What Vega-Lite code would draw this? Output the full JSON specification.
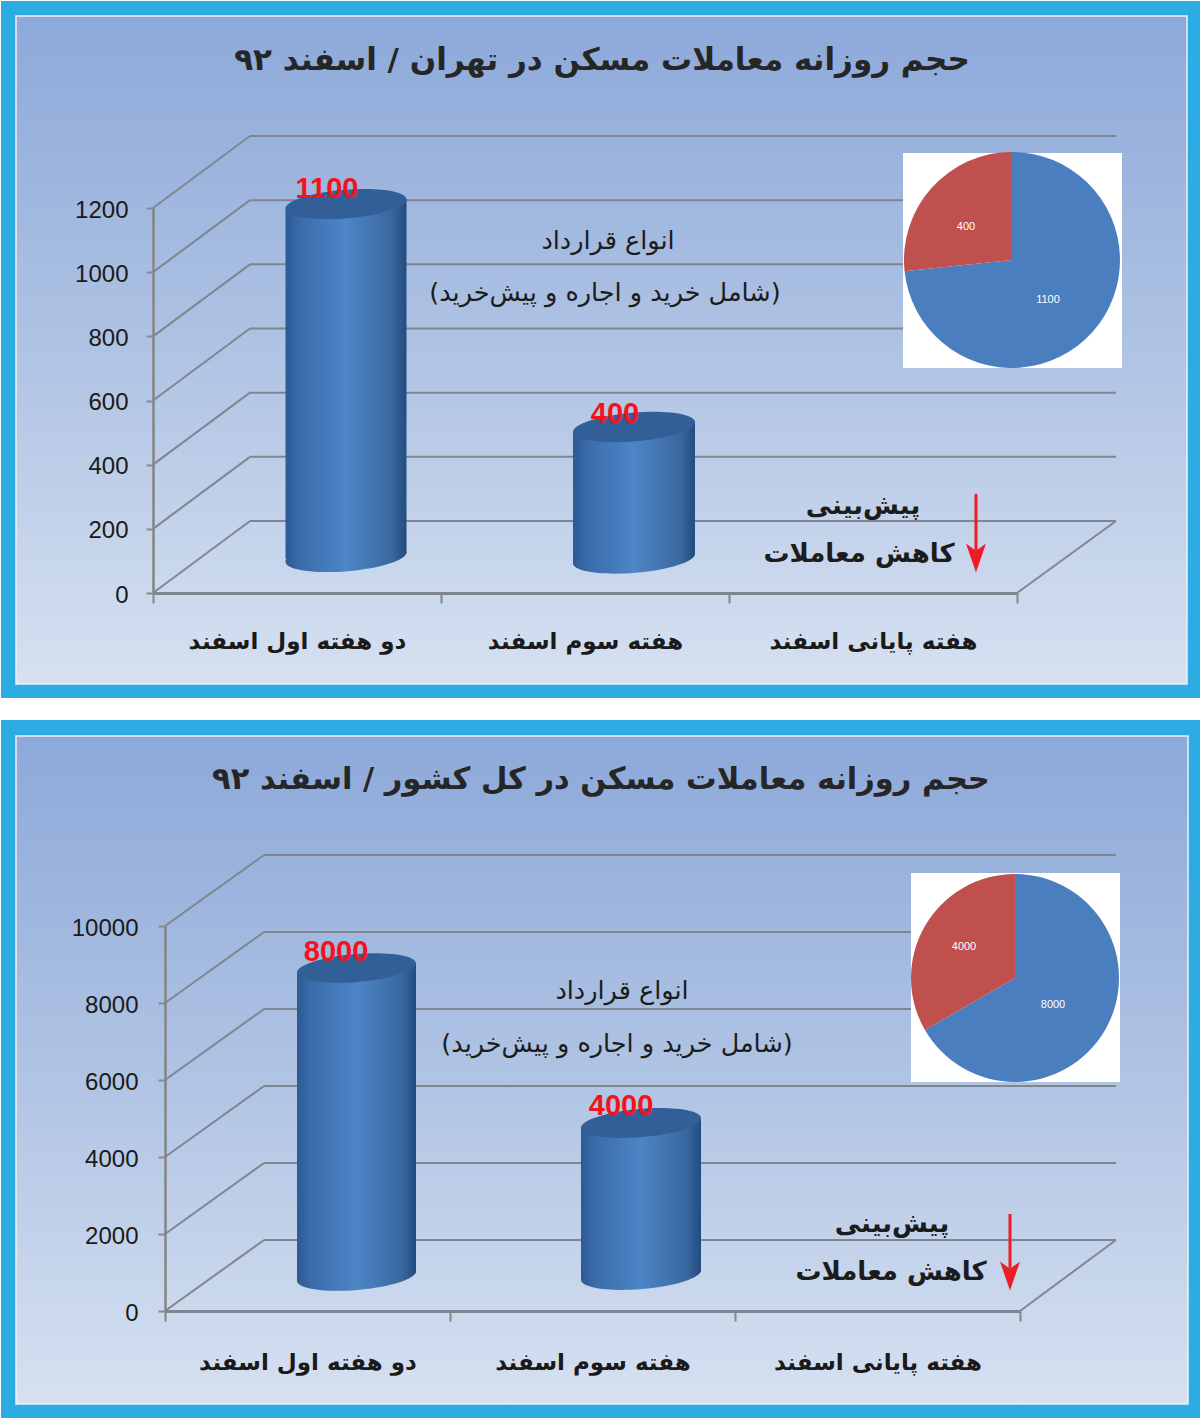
{"$schema":"https://vega.github.io/schema/vega-lite/v6.json","padding":0,"background":"#ffffff","spacing":21,"config":{"view":{"stroke":null}},
"vconcat":[
{"width":864,"height":385,
"resolve":{"scale":{"x":"independent","color":"independent"},"axis":{"x":"independent"}},
"encoding":{"x":{"field":"x","type":"quantitative","scale":{"domain":[0,3],"range":[-12,852],"nice":false,"zero":false},"axis":null},
"y":{"field":"v","type":"quantitative","scale":{"domain":[0,1200],"nice":false,"zero":false},"axis":{"title":null,"grid":false,"offset":12,"values":[0,200,400,600,800,1000,1200],"format":"d","zindex":1,"labelFont":"Liberation Sans","labelFontSize":24,"labelColor":"#1a1a1a","labelPadding":18,"labelOffset":2,"tickSize":7,"tickWidth":2,"tickColor":"#8a8a8a","domainColor":"#858585","domainWidth":2.5}}},
"layer":[
{"data":{"values":[{"x":-0.5278,"x2":3.6389,"v":1845.2,"v2":-327.3}]},"mark":{"type":"rect","fill":"#2DABE3"},"encoding":{"x2":{"field":"x2"},"y2":{"field":"v2"}}},
{"data":{"values":[{"x":-0.4757,"x2":3.5903,"v":1798.4,"v2":-283.6}]},"mark":{"type":"rect","stroke":"#EEF1F8","strokeWidth":1.5,"fill":{"gradient":"linear","x1":0,"y1":0,"x2":0,"y2":1,"stops":[{"offset":0,"color":"#8DA9DA"},{"offset":0.5,"color":"#AFC3E3"},{"offset":1,"color":"#D6E1F1"}]}},"encoding":{"x2":{"field":"x2"},"y2":{"field":"v2"}}},
{"data":{"values":[{"t":"حجم روزانه معاملات مسکن در تهران / اسفند ۹۲","x":1.559,"v":1658.2}]},"mark":{"type":"text","font":"DejaVu Sans","fontWeight":"bold","fontSize":31,"color":"#262626"},"encoding":{"text":{"field":"t"}}},
{"data":{"values":[
{"x":0.3368,"x2":3.3438,"v":224.4,"v2":224.4},{"x":0.3368,"x2":3.3438,"v":424.4,"v2":424.4},{"x":0.3368,"x2":3.3438,"v":624.4,"v2":624.4},{"x":0.3368,"x2":3.3438,"v":824.4,"v2":824.4},{"x":0.3368,"x2":3.3438,"v":1024.4,"v2":1024.4},{"x":0.3368,"x2":3.3438,"v":1224.4,"v2":1224.4},{"x":0.3368,"x2":3.3438,"v":1424.4,"v2":1424.4},
{"x":0,"x2":0.3368,"v":0,"v2":224.4},{"x":0,"x2":0.3368,"v":200,"v2":424.4},{"x":0,"x2":0.3368,"v":400,"v2":624.4},{"x":0,"x2":0.3368,"v":600,"v2":824.4},{"x":0,"x2":0.3368,"v":800,"v2":1024.4},{"x":0,"x2":0.3368,"v":1000,"v2":1224.4},{"x":0,"x2":0.3368,"v":1200,"v2":1424.4},
{"x":3,"x2":3.3438,"v":0,"v2":224.4}]},"mark":{"type":"rule","color":"#7f8690","strokeWidth":2},"encoding":{"x2":{"field":"x2"},"y2":{"field":"v2"}}},
{"data":{"values":[{"bar":"a","x":0.6701,"v":112.2,"s":14641},{"bar":"b","x":1.6701,"v":107.5,"s":14884}]},"mark":{"type":"point","filled":true,"opacity":1,"shape":"M-1,0.083 A1,0.235 -4.75 1 1 1,-0.083 A1,0.235 -4.75 1 1 -1,0.083 Z","fill":{"gradient":"linear","x1":0,"y1":0,"x2":1,"y2":0,"stops":[{"offset":0,"color":"#2C5A94"},{"offset":0.12,"color":"#3A6CAB"},{"offset":0.5,"color":"#4D85C6"},{"offset":0.88,"color":"#39689F"},{"offset":1,"color":"#234B80"}]}},"encoding":{"size":{"field":"s","type":"quantitative","scale":null}}},
{"data":{"values":[{"bar":"a","x":0.4601,"v":1196.9,"v2":106},{"bar":"a","x":0.8802,"v":1228,"v2":124.7},{"bar":"b","x":1.4583,"v":498.7,"v2":93.5},{"bar":"b","x":1.8819,"v":536.1,"v2":121.6}]},"mark":{"type":"area","orient":"vertical","fill":{"gradient":"linear","x1":0,"y1":0,"x2":1,"y2":0,"stops":[{"offset":0,"color":"#2C5A94"},{"offset":0.12,"color":"#3A6CAB"},{"offset":0.5,"color":"#4D85C6"},{"offset":0.88,"color":"#39689F"},{"offset":1,"color":"#234B80"}]}},"encoding":{"y2":{"field":"v2"},"detail":{"field":"bar"}}},
{"data":{"values":[{"bar":"a","x":0.6701,"v":1212.5,"s":14641},{"bar":"b","x":1.6701,"v":517.4,"s":14884}]},"mark":{"type":"point","filled":true,"opacity":1,"fill":"#325F98","shape":"M-1,0.083 A1,0.235 -4.75 1 1 1,-0.083 A1,0.235 -4.75 1 1 -1,0.083 Z"},"encoding":{"size":{"field":"s","type":"quantitative","scale":null}}},
{"data":{"values":[{"x":2.6042,"x2":3.3646,"v":1371.4,"v2":701.3}]},"mark":{"type":"rect","fill":"#ffffff"},"encoding":{"x2":{"field":"x2"},"y2":{"field":"v2"}}},
{"data":{"values":[{"part":"دو هفته اول اسفند","n":1100,"o":1,"x":2.9826,"v":1037.9},{"part":"هفته سوم اسفند","n":400,"o":2,"x":2.9826,"v":1037.9}]},"mark":{"type":"arc","outerRadius":108},"encoding":{"theta":{"field":"n","type":"quantitative","stack":true},"order":{"field":"o"},"color":{"field":"part","type":"nominal","legend":null,"scale":{"domain":["دو هفته اول اسفند","هفته سوم اسفند"],"range":["#4A7EBF","#C0504D"]}}}},
{"data":{"values":[{"t":"400","x":2.8229,"v":1140.8},{"t":"1100","x":3.1076,"v":913.2}]},"mark":{"type":"text","font":"Liberation Sans","fontSize":11,"color":"#ffffff"},"encoding":{"text":{"field":"t"}}},
{"data":{"values":[{"t":"انواع قرارداد","x":1.5799,"v":1097.1},{"t":"(شامل خرید و اجاره و پیش‌خرید)","x":1.5694,"v":935.1}]},"mark":{"type":"text","font":"DejaVu Sans","fontSize":25.5,"color":"#1c1c1c"},"encoding":{"text":{"field":"t"}}},
{"data":{"values":[{"t":"پیش‌بینی","x":2.4653,"v":271.2},{"t":"کاهش معاملات","x":2.4514,"v":121.6}]},"mark":{"type":"text","font":"DejaVu Sans","fontWeight":"bold","fontSize":26,"color":"#1c1c1c"},"encoding":{"text":{"field":"t"}}},
{"data":{"values":[{"x":2.8576,"v":308.6,"v2":125}]},"mark":{"type":"rule","color":"#EE1C25","strokeWidth":3},"encoding":{"y2":{"field":"v2"}}},
{"data":{"values":[{"x":2.8576,"v":109.1}]},"mark":{"type":"point","filled":true,"opacity":1,"fill":"#EE1C25","size":841,"shape":"M-0.69,-1 L0,-0.5 L0.69,-1 L0,1 Z"}},
{"data":{"values":[{"cat":"دو هفته اول اسفند","v":1100},{"cat":"هفته سوم اسفند","v":400}]},"mark":{"type":"text","font":"Liberation Sans","fontWeight":"bold","fontSize":29,"color":"#F2141C","dx":30,"dy":-51},
"encoding":{"x":{"field":"cat","type":"nominal","sort":null,"scale":{"type":"band","domain":["دو هفته اول اسفند","هفته سوم اسفند","هفته پایانی اسفند"],"range":[-12,852],"paddingInner":0,"paddingOuter":0},"axis":{"title":null,"orient":"bottom","zindex":1,"labelAngle":0,"labelLimit":0,"tickBand":"extent","labelFont":"DejaVu Sans","labelFontWeight":"bold","labelFontSize":23,"labelColor":"#1a1a1a","labelPadding":27,"tickSize":10,"tickWidth":2,"tickColor":"#858585","domainColor":"#7f8690","domainWidth":3,"labelBaseline":"top"}},"text":{"field":"v","type":"quantitative","format":"d"}}}
]},
{"width":855,"height":385,
"resolve":{"scale":{"x":"independent","color":"independent"},"axis":{"x":"independent"}},
"encoding":{"x":{"field":"x","type":"quantitative","scale":{"domain":[0,3],"nice":false,"zero":false},"axis":null},
"y":{"field":"v","type":"quantitative","scale":{"domain":[0,10000],"nice":false,"zero":false},"axis":{"title":null,"grid":false,"values":[0,2000,4000,6000,8000,10000],"format":"d","zindex":1,"labelFont":"Liberation Sans","labelFontSize":24,"labelColor":"#1a1a1a","labelPadding":20,"labelOffset":2,"tickSize":7,"tickWidth":2,"tickColor":"#8a8a8a","domainColor":"#858585","domainWidth":2.5}}},
"layer":[
{"data":{"values":[{"x":-0.5754,"x2":3.6351,"v":15350.6,"v2":-2779.2}]},"mark":{"type":"rect","fill":"#2DABE3"},"encoding":{"x2":{"field":"x2"},"y2":{"field":"v2"}}},
{"data":{"values":[{"x":-0.5228,"x2":3.5895,"v":14935,"v2":-2415.6}]},"mark":{"type":"rect","stroke":"#EEF1F8","strokeWidth":1.5,"fill":{"gradient":"linear","x1":0,"y1":0,"x2":0,"y2":1,"stops":[{"offset":0,"color":"#8DA9DA"},{"offset":0.5,"color":"#AFC3E3"},{"offset":1,"color":"#D6E1F1"}]}},"encoding":{"x2":{"field":"x2"},"y2":{"field":"v2"}}},
{"data":{"values":[{"t":"حجم روزانه معاملات مسکن در کل کشور / اسفند ۹۲","x":1.5298,"v":13792}]},"mark":{"type":"text","font":"DejaVu Sans","fontWeight":"bold","fontSize":30.5,"color":"#262626"},"encoding":{"text":{"field":"t"}}},
{"data":{"values":[
{"x":0.3474,"x2":3.3368,"v":1844.2,"v2":1844.2},{"x":0.3474,"x2":3.3368,"v":3844.2,"v2":3844.2},{"x":0.3474,"x2":3.3368,"v":5844.2,"v2":5844.2},{"x":0.3474,"x2":3.3368,"v":7844.2,"v2":7844.2},{"x":0.3474,"x2":3.3368,"v":9844.2,"v2":9844.2},{"x":0.3474,"x2":3.3368,"v":11844.2,"v2":11844.2},
{"x":0,"x2":0.3474,"v":0,"v2":1844.2},{"x":0,"x2":0.3474,"v":2000,"v2":3844.2},{"x":0,"x2":0.3474,"v":4000,"v2":5844.2},{"x":0,"x2":0.3474,"v":6000,"v2":7844.2},{"x":0,"x2":0.3474,"v":8000,"v2":9844.2},{"x":0,"x2":0.3474,"v":10000,"v2":11844.2},
{"x":3,"x2":3.3368,"v":0,"v2":1844.2}]},"mark":{"type":"rule","color":"#7f8690","strokeWidth":2},"encoding":{"x2":{"field":"x2"},"y2":{"field":"v2"}}},
{"data":{"values":[{"bar":"a","x":0.6719,"v":909,"s":14161},{"bar":"b","x":1.6702,"v":935,"s":14400}]},"mark":{"type":"point","filled":true,"opacity":1,"shape":"M-1,0.083 A1,0.235 -4.75 1 1 1,-0.083 A1,0.235 -4.75 1 1 -1,0.083 Z","fill":{"gradient":"linear","x1":0,"y1":0,"x2":1,"y2":0,"stops":[{"offset":0,"color":"#2C5A94"},{"offset":0.12,"color":"#3A6CAB"},{"offset":0.5,"color":"#4D85C6"},{"offset":0.88,"color":"#39689F"},{"offset":1,"color":"#234B80"}]}},"encoding":{"size":{"field":"s","type":"quantitative","scale":null}}},
{"data":{"values":[{"bar":"a","x":0.4632,"v":8766,"v2":831},{"bar":"a","x":0.8807,"v":9052,"v2":987},{"bar":"b","x":1.4596,"v":4753,"v2":831},{"bar":"b","x":1.8807,"v":5013,"v2":1013}]},"mark":{"type":"area","orient":"vertical","fill":{"gradient":"linear","x1":0,"y1":0,"x2":1,"y2":0,"stops":[{"offset":0,"color":"#2C5A94"},{"offset":0.12,"color":"#3A6CAB"},{"offset":0.5,"color":"#4D85C6"},{"offset":0.88,"color":"#39689F"},{"offset":1,"color":"#234B80"}]}},"encoding":{"y2":{"field":"v2"},"detail":{"field":"bar"}}},
{"data":{"values":[{"bar":"a","x":0.6719,"v":8909,"s":14161},{"bar":"b","x":1.6702,"v":4883,"s":14400}]},"mark":{"type":"point","filled":true,"opacity":1,"fill":"#325F98","shape":"M-1,0.083 A1,0.235 -4.75 1 1 1,-0.083 A1,0.235 -4.75 1 1 -1,0.083 Z"},"encoding":{"size":{"field":"s","type":"quantitative","scale":null}}},
{"data":{"values":[{"x":2.6175,"x2":3.3509,"v":11376.6,"v2":5948}]},"mark":{"type":"rect","fill":"#ffffff"},"encoding":{"x2":{"field":"x2"},"y2":{"field":"v2"}}},
{"data":{"values":[{"part":"دو هفته اول اسفند","n":8000,"o":1,"x":2.9825,"v":8649},{"part":"هفته سوم اسفند","n":4000,"o":2,"x":2.9825,"v":8649}]},"mark":{"type":"arc","outerRadius":104},"encoding":{"theta":{"field":"n","type":"quantitative","stack":true},"order":{"field":"o"},"color":{"field":"part","type":"nominal","legend":null,"scale":{"domain":["دو هفته اول اسفند","هفته سوم اسفند"],"range":["#4A7EBF","#C0504D"]}}}},
{"data":{"values":[{"t":"4000","x":2.8035,"v":9454.5},{"t":"8000","x":3.1158,"v":7948}]},"mark":{"type":"text","font":"Liberation Sans","fontSize":11,"color":"#ffffff"},"encoding":{"text":{"field":"t"}}},
{"data":{"values":[{"t":"انواع قرارداد","x":1.6035,"v":8311.7},{"t":"(شامل خرید و اجاره و پیش‌خرید)","x":1.586,"v":6935}]},"mark":{"type":"text","font":"DejaVu Sans","fontSize":25.5,"color":"#1c1c1c"},"encoding":{"text":{"field":"t"}}},
{"data":{"values":[{"t":"پیش‌بینی","x":2.5509,"v":2259.7},{"t":"کاهش معاملات","x":2.5474,"v":1013}]},"mark":{"type":"text","font":"DejaVu Sans","fontWeight":"bold","fontSize":26,"color":"#1c1c1c"},"encoding":{"text":{"field":"t"}}},
{"data":{"values":[{"x":2.9649,"v":2519.5,"v2":1100}]},"mark":{"type":"rule","color":"#EE1C25","strokeWidth":3},"encoding":{"y2":{"field":"v2"}}},
{"data":{"values":[{"x":2.9649,"v":909}]},"mark":{"type":"point","filled":true,"opacity":1,"fill":"#EE1C25","size":841,"shape":"M-0.69,-1 L0,-0.5 L0.69,-1 L0,1 Z"}},
{"data":{"values":[{"cat":"دو هفته اول اسفند","v":8000},{"cat":"هفته سوم اسفند","v":4000}]},"mark":{"type":"text","font":"Liberation Sans","fontWeight":"bold","fontSize":29,"color":"#F2141C","dx":28.5,"dy":-51},
"encoding":{"x":{"field":"cat","type":"nominal","sort":null,"scale":{"type":"band","domain":["دو هفته اول اسفند","هفته سوم اسفند","هفته پایانی اسفند"],"paddingInner":0,"paddingOuter":0},"axis":{"title":null,"orient":"bottom","zindex":1,"labelAngle":0,"labelLimit":0,"tickBand":"extent","labelFont":"DejaVu Sans","labelFontWeight":"bold","labelFontSize":23,"labelColor":"#1a1a1a","labelPadding":30,"tickSize":10,"tickWidth":2,"tickColor":"#858585","domainColor":"#7f8690","domainWidth":3,"labelBaseline":"top"}},"text":{"field":"v","type":"quantitative","format":"d"}}}
]}
]}
